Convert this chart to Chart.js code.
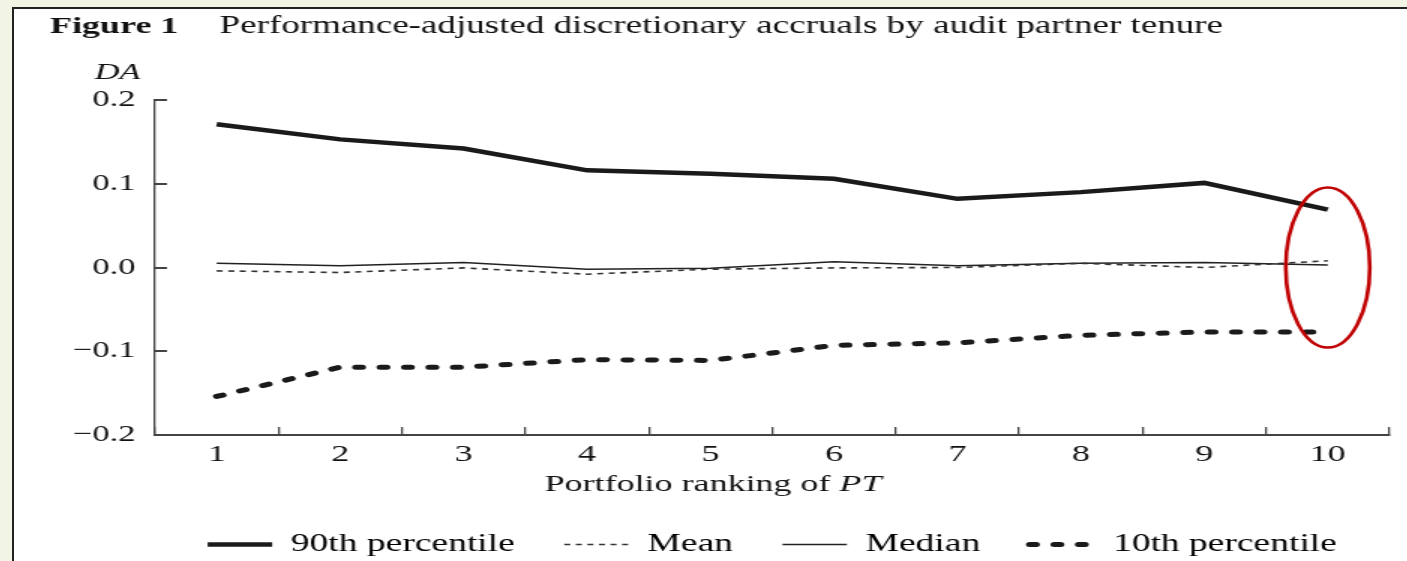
<!DOCTYPE html>
<html>
<head>
<meta charset="utf-8">
<script src="https://cdn.jsdelivr.net/npm/chart.js@4.4.1/dist/chart.umd.min.js"></script>
<style>
  html, body { margin: 0; padding: 0; width: 1407px; height: 561px; overflow: hidden; background: #f2f5e4; }
  .panel { position: absolute; left: 12px; top: 7px; width: 1420px; height: 580px; background: #fff;
           border-left: 2px solid #222; border-top: 2px solid #222; }
  #chart { position: absolute; left: 14px; top: 10px; }
</style>
</head>
<body>
<div class="panel"></div>
<canvas id="chart" width="928" height="557" style="width:1392px;height:557px"></canvas>
<script>
const portfolios = ["1", "2", "3", "4", "5", "6", "7", "8", "9", "10"];
const p90 = [0.171, 0.153, 0.142, 0.116, 0.112, 0.106, 0.082, 0.090, 0.101, 0.069];
const meanDA = [-0.004, -0.006, -0.0005, -0.008, -0.002, -0.0005, 0.000, 0.005, 0.000, 0.008];
const medianDA = [0.005, 0.002, 0.006, -0.002, -0.001, 0.007, 0.002, 0.005, 0.006, 0.003];
const p10 = [-0.154, -0.119, -0.119, -0.110, -0.111, -0.093, -0.090, -0.081, -0.077, -0.077];

const figureLabel = "Figure 1";
const figureTitle = "Performance-adjusted discretionary accruals by audit partner tenure";
const yTitle = "DA";
const xTitle = ["Portfolio ranking of ", "PT"];

const serif = "'Liberation Serif', 'Times New Roman', serif";
const ink = "#111";
Chart.defaults.font.family = serif;
Chart.defaults.color = ink;

// titles, axis captions and the red ring around portfolio 10
const textPlugin = {
    id: "texts",
    afterDraw(chart) {
        const { ctx, chartArea, scales } = chart;
        ctx.save();
        ctx.fillStyle = ink;
        ctx.textBaseline = "alphabetic";
        ctx.font = "bold 24px " + serif;
        ctx.fillText(figureLabel, 24, 23);
        ctx.font = "24.7px " + serif;
        ctx.fillText(figureTitle, 137, 23);

        ctx.textBaseline = "middle";
        ctx.textAlign = "center";
        ctx.font = "italic 23px " + serif;
        ctx.fillText(yTitle, chartArea.left - 25, chartArea.top - 27);

        ctx.textAlign = "left";
        ctx.font = "24px " + serif;
        const w1 = ctx.measureText(xTitle[0]).width;
        ctx.font = "italic 24px " + serif;
        const w2 = ctx.measureText(xTitle[1]).width;
        const x0 = chart.width / 2 + 2 - (w1 + w2) / 2;
        const ty = chartArea.bottom + 50;
        ctx.font = "24px " + serif;
        ctx.fillText(xTitle[0], x0, ty);
        ctx.font = "italic 24px " + serif;
        ctx.fillText(xTitle[1], x0 + w1, ty);

        const cx = scales.x.getPixelForValue(portfolios.length - 1);
        const cy = scales.y.getPixelForValue(0);
        ctx.beginPath();
        ctx.ellipse(cx, cy, 28, 80, 0, 0, Math.PI * 2);
        ctx.strokeStyle = "#c00000";
        ctx.lineWidth = 2.6;
        ctx.stroke();
        ctx.restore();
    }
};

const lineData = {
    labels: portfolios,
    datasets: [
        { label: "90th percentile", data: p90, borderColor: "#1a1a1a", borderWidth: 4.5 },
        { label: "Mean", data: meanDA, borderColor: "#333", borderWidth: 1.6, borderDash: [4, 3.7] },
        { label: "Median", data: medianDA, borderColor: "#222", borderWidth: 1.5 },
        { label: "10th percentile", data: p10, borderColor: "#1a1a1a", borderWidth: 5,
          borderDash: [4.3, 12], borderCapStyle: "round" },
    ],
};

const lineConfig = {
    type: "line",
    data: lineData,
    plugins: [textPlugin],
    options: {
        responsive: false,
        animation: false,
        events: [],
        layout: { padding: { top: 90, right: 11, left: 0, bottom: 0 } },
        elements: { point: { radius: 0 }, line: { tension: 0, fill: false } },
        scales: {
            x: {
                offset: true,
                afterFit: s => { s.height = 64; },
                border: { display: true, color: "#444", width: 2 },
                grid: { offset: true, drawOnChartArea: false, drawTicks: true, tickLength: -8,
                        color: "#444", lineWidth: 1.3 },
                ticks: { padding: 13, font: { size: 24 }, color: ink, maxRotation: 0 },
            },
            y: {
                min: -0.2,
                max: 0.2,
                afterFit: s => { s.width = 94; },
                border: { display: true, color: "#444", width: 1.3 },
                grid: { drawOnChartArea: false, drawTicks: true, tickLength: -8, color: "#444", lineWidth: 2 },
                ticks: {
                    stepSize: 0.1,
                    padding: 21,
                    font: { size: 23 },
                    color: ink,
                    callback: v => Math.abs(v) < 1e-9 ? "0.0" : (v < 0 ? "\u2212" : "") + Math.abs(v).toFixed(1),
                },
            },
        },
        plugins: {
            tooltip: { enabled: false },
            legend: {
                position: "bottom",
                fullSize: false,
                labels: {
                    usePointStyle: true,
                    pointStyleWidth: 43,
                    padding: 33,
                    color: ink,
                    font: { size: 25 },
                    generateLabels: chart => chart.data.datasets.map((ds, i) => ({
                        text: ds.label,
                        strokeStyle: ds.borderColor,
                        fillStyle: ds.borderColor,
                        lineWidth: ds.borderWidth,
                        lineDash: ds.borderDash || [],
                        lineCap: ds.borderCapStyle || "butt",
                        pointStyle: "line",
                        hidden: false,
                        datasetIndex: i,
                    })),
                },
            },
        },
    },
};

const lineChart = new Chart(document.getElementById("chart"), lineConfig);
</script>
</body>
</html>
